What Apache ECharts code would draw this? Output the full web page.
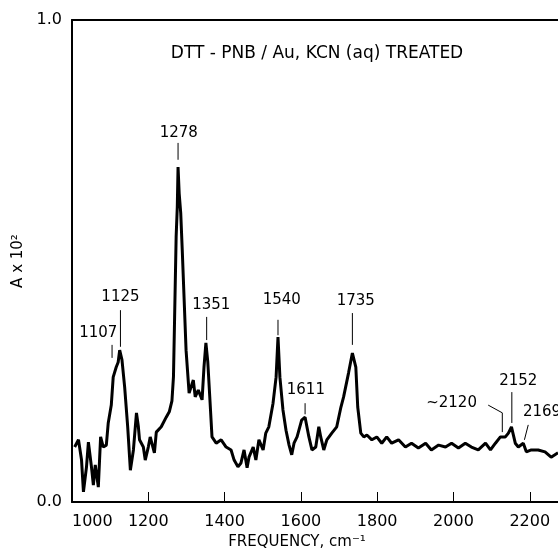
<!DOCTYPE html>
<html>
<head>
<meta charset="utf-8">
<script src="https://cdn.jsdelivr.net/npm/echarts@6/dist/echarts.min.js"></script>
<style>
  html, body { margin: 0; padding: 0; background: #fff; }
  #chart { width: 558px; height: 556px; }
</style>
</head>
<body>
<div id="chart"></div>
<script>
// spectrum: frequency (cm-1) and absorbance (x 10^2)
const freq = [
  1007, 1017, 1025, 1030, 1038, 1043, 1051, 1056, 1061, 1069, 1075, 1082, 1090, 1095, 1103,
  1108, 1116, 1121, 1125, 1131, 1138, 1146, 1153, 1161, 1169, 1174, 1177, 1187, 1192, 1200,
  1205, 1216, 1221, 1234, 1247, 1255, 1262, 1266, 1269, 1273, 1276, 1278, 1281, 1285, 1289,
  1294, 1299, 1307, 1318, 1323, 1331, 1341, 1346, 1351, 1356, 1361, 1367, 1378, 1391, 1404,
  1417, 1425, 1435, 1443, 1451, 1459, 1464, 1475, 1482, 1490, 1501, 1508, 1516, 1527, 1535,
  1540, 1545, 1553, 1561, 1569, 1576, 1582, 1590, 1602, 1611, 1621, 1629, 1639, 1647, 1652,
  1660, 1668, 1681, 1694, 1705, 1712, 1725, 1735, 1744, 1749, 1757, 1765, 1773, 1786, 1799,
  1812, 1825, 1838, 1856, 1874, 1890, 1908, 1927, 1942, 1961, 1979, 1995, 2013, 2031, 2047,
  2065, 2084, 2097, 2110, 2123, 2136, 2144, 2152, 2162, 2170, 2183, 2191, 2204, 2222, 2240,
  2256, 2274
];
const absorb = [
  0.114, 0.129, 0.087, 0.021, 0.073, 0.124, 0.073, 0.035, 0.077, 0.031, 0.135, 0.114, 0.118, 0.164, 0.201,
  0.259, 0.280, 0.290, 0.315, 0.295, 0.239, 0.156, 0.066, 0.108, 0.185, 0.156, 0.129, 0.114, 0.087, 0.114,
  0.135, 0.102, 0.145, 0.156, 0.176, 0.187, 0.210, 0.260, 0.384, 0.550, 0.612, 0.695, 0.640, 0.600, 0.523,
  0.419, 0.315, 0.226, 0.253, 0.218, 0.232, 0.212, 0.280, 0.330, 0.290, 0.220, 0.135, 0.122, 0.129, 0.114,
  0.108, 0.087, 0.073, 0.081, 0.108, 0.071, 0.093, 0.114, 0.087, 0.129, 0.108, 0.143, 0.156, 0.205, 0.259,
  0.342, 0.259, 0.191, 0.149, 0.118, 0.098, 0.122, 0.135, 0.170, 0.176, 0.135, 0.108, 0.114, 0.156, 0.135,
  0.108, 0.129, 0.143, 0.156, 0.197, 0.218, 0.268, 0.309, 0.280, 0.197, 0.143, 0.135, 0.139, 0.129, 0.135,
  0.122, 0.135, 0.122, 0.129, 0.114, 0.122, 0.112, 0.122, 0.108, 0.118, 0.114, 0.122, 0.112, 0.122, 0.114,
  0.108, 0.122, 0.108, 0.122, 0.135, 0.135, 0.143, 0.156, 0.122, 0.114, 0.122, 0.104, 0.108, 0.108, 0.104,
  0.093, 0.102
];

// peak annotations: text, text position, leader line points
const peakText = ['1107', '1125', '1278', '1351', '1540', '1611', '1735', '~2120', '2152', '2169'];
const peakTextFreq = [1069, 1127, 1280, 1365, 1550, 1613, 1744, 1995, 2170, 2232];
const peakTextAbs = [0.351, 0.425, 0.766, 0.409, 0.419, 0.232, 0.417, 0.205, 0.251, 0.187];
const leaderFreq = [[1105, 1105], [1127, 1127], [1278, 1278], [1353, 1353], [1540, 1540],
  [1611, 1611], [1735, 1735], [2091, 2128, 2128], [2153, 2153], [2196, 2186]];
const leaderAbs = [[0.326, 0.299], [0.398, 0.322], [0.745, 0.71], [0.384, 0.336], [0.378, 0.346],
  [0.205, 0.182], [0.392, 0.326], [0.201, 0.185, 0.145], [0.228, 0.164], [0.160, 0.129]];

const xMin = 1000;
const xMax = 2274;
const font = 'DejaVu Sans';

const chart = echarts.init(document.getElementById('chart'));

const spectrum = freq.map((f, i) => [f, absorb[i]]);
const textPoints = peakText.map((t, i) => ({ name: t, value: [peakTextFreq[i], peakTextAbs[i]] }));
const leaders = leaderFreq.map((xs, i) => ({ coords: xs.map((x, j) => [x, leaderAbs[i][j]]) }));

const opts = {
  backgroundColor: '#fff',
  animation: false,
  title: {
    text: 'DTT - PNB / Au, KCN (aq) TREATED',
    left: 312,
    top: 40,
    textAlign: 'center',
    textStyle: { fontFamily: font, fontSize: 17, fontWeight: 'normal', color: '#000' },
  },
  grid: { left: 72, right: 0, top: 20, bottom: 54 },
  xAxis: [
    {
      type: 'value',
      min: xMin,
      max: xMax,
      interval: 200,
      name: 'FREQUENCY, cm\u207B\u00B9',
      nameLocation: 'middle',
      nameGap: 32,
      nameTextStyle: { fontFamily: font, fontSize: 15, color: '#000', padding: [0, 36, 0, 0] },
      axisLine: { lineStyle: { color: '#000', width: 2 } },
      axisTick: { inside: true, length: 10, lineStyle: { color: '#000', width: 1 } },
      axisLabel: {
        fontFamily: font, fontSize: 16, color: '#000', margin: 12,
        showMaxLabel: false, alignMinLabel: 'left',
        formatter: (v) => String(v),
      },
      splitLine: { show: false },
    },
    {
      type: 'value',
      position: 'top',
      min: xMin,
      max: xMax,
      axisLine: { lineStyle: { color: '#000', width: 2 } },
      axisTick: { show: false },
      axisLabel: { show: false },
      splitLine: { show: false },
    },
  ],
  yAxis: {
    type: 'value',
    min: 0,
    max: 1,
    interval: 1,
    name: 'A x 10\u00B2',
    nameLocation: 'middle',
    nameGap: 34,
    nameRotate: 90,
    nameTextStyle: { fontFamily: font, fontSize: 15, color: '#000' },
    axisLine: { show: true, lineStyle: { color: '#000', width: 2 } },
    axisTick: { show: false },
    axisLabel: {
      fontFamily: font, fontSize: 16, color: '#000', margin: 10,
      formatter: (v) => v.toFixed(1),
    },
    splitLine: { show: false },
  },
  series: [
    {
      type: 'line',
      data: spectrum,
      symbol: 'none',
      lineStyle: { color: '#000', width: 3 },
      z: 3,
    },
    {
      type: 'lines',
      coordinateSystem: 'cartesian2d',
      polyline: true,
      data: leaders,
      lineStyle: { color: '#000', width: 1, opacity: 1 },
      silent: true,
    },
    {
      type: 'scatter',
      data: textPoints,
      symbolSize: 0,
      itemStyle: { color: '#000', opacity: 1 },
      label: {
        show: true,
        position: [0, 0],
        align: 'center',
        verticalAlign: 'middle',
        formatter: (p) => p.name,
        fontFamily: font,
        fontSize: 15,
        color: '#000',
        opacity: 1,
      },
      silent: true,
    },
  ],
};

chart.setOption(opts);
</script>
</body>
</html>
